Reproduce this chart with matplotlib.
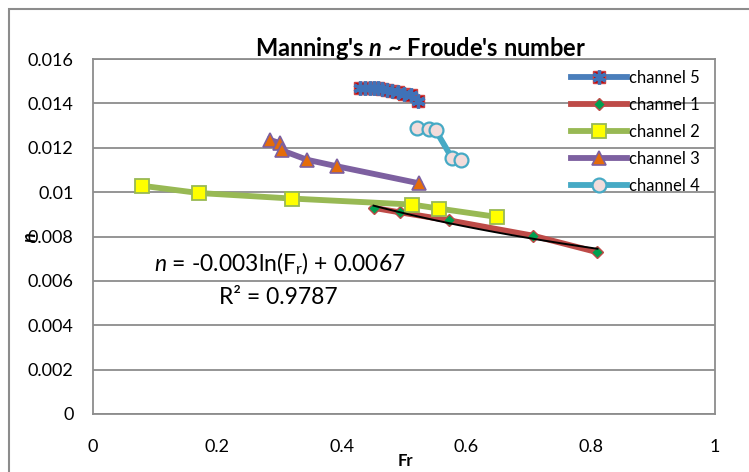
"""Manning's n against Froude number for five channels"""
import numpy as np
import matplotlib
matplotlib.use('Agg')
import matplotlib.pyplot as plt
from matplotlib.patches import Rectangle
from matplotlib.legend_handler import HandlerTuple

plt.rcParams['font.family'] = ['Lato', 'DejaVu Sans']
plt.rcParams['mathtext.fontset'] = 'custom'
plt.rcParams['mathtext.rm'] = 'Lato'
plt.rcParams['mathtext.it'] = 'Lato:italic'
plt.rcParams['mathtext.bf'] = 'Lato:bold'
plt.rcParams['mathtext.bfit'] = 'Lato:italic:bold'

# values
ch5_fr = [0.430, 0.438, 0.445, 0.452, 0.458, 0.465, 0.472, 0.480, 0.490, 0.500, 0.512, 0.522]
ch5_n = [0.01470, 0.01470, 0.01470, 0.01469, 0.01468, 0.01466, 0.01462, 0.01457,
         0.01450, 0.01444, 0.01438, 0.01412]
ch1_fr = [0.451, 0.493, 0.572, 0.707, 0.811]
ch1_n = [0.00929, 0.00909, 0.00873, 0.00804, 0.00729]
ch2_fr = [0.078, 0.170, 0.320, 0.513, 0.556, 0.650]
ch2_n = [0.01029, 0.00996, 0.00971, 0.00944, 0.00926, 0.00888]
ch3_fr = [0.284, 0.300, 0.304, 0.344, 0.393, 0.524]
ch3_n = [0.01236, 0.01221, 0.01188, 0.01146, 0.01116, 0.01040]
ch4_fr = [0.521, 0.540, 0.551, 0.577, 0.591]
ch4_n = [0.01289, 0.01285, 0.01278, 0.01154, 0.01143]

xticks = [0, 0.2, 0.4, 0.6, 0.8, 1]
xtick_labels = ['0', '0.2', '0.4', '0.6', '0.8', '1']
yticks = [0, 0.002, 0.004, 0.006, 0.008, 0.01, 0.012, 0.014, 0.016]
ytick_labels = ['0', '0.002', '0.004', '0.006', '0.008', '0.01', '0.012', '0.014', '0.016']
labels = ['channel 5', 'channel 1', 'channel 2', 'channel 3', 'channel 4']

W, H = 749, 472
fig = plt.figure(figsize=(W/100., H/100.), dpi=100)
# outer chart frame (only left and top edges are inside the picture)
fig.patches.append(Rectangle((8.5/W, -0.1), 1.2, 1 - 9./H + 0.1, transform=fig.transFigure,
                             fill=False, edgecolor='#8c8c8c', linewidth=1.5))
ax = fig.add_axes([93./W, 1 - 414./H, (715. - 93.)/W, (414. - 59.)/H])

lw = 4.2
l5, = ax.plot(ch5_fr, ch5_n, '-', color='#4A7EBB', lw=lw, marker='s', ms=9,
              mfc='#C00000', mec='#D04040', zorder=3)
l5x, = ax.plot(ch5_fr, ch5_n, ls='none', marker=(6, 2, 0), ms=10, mec='#3F72B8',
               mew=2.4, zorder=3.1)
l1, = ax.plot(ch1_fr, ch1_n, '-', color='#BE4B48', lw=lw, marker='D', ms=6.5,
              mfc='#00A050', mec='#BE4B48', zorder=3)
l2, = ax.plot(ch2_fr, ch2_n, '-', color='#98B954', lw=lw, marker='s', ms=9.5,
              mfc='#FFFF00', mec='#98B954', mew=1.3, zorder=3)
l3, = ax.plot(ch3_fr, ch3_n, '-', color='#7D60A0', lw=lw, marker='^', ms=10,
              mfc='#E46C0A', mec='#7D60A0', mew=1.2, zorder=3)
l4, = ax.plot(ch4_fr, ch4_n, '-', color='#46AAC5', lw=lw, marker='o', ms=10,
              mfc='#F2DCDB', mec='#46AAC5', mew=1.6, zorder=3)

# logarithmic trend line fitted to channel 1
a, b = np.polyfit(np.log(ch1_fr), ch1_n, 1)
xx = np.linspace(min(ch1_fr), max(ch1_fr), 100)
ax.plot(xx, a*np.log(xx) + b, '-', color='black', lw=1.4, zorder=4)

ax.set_xlim(0, 1)
ax.set_ylim(0, 0.016)
ax.set_xticks(xticks)
ax.set_xticklabels(xtick_labels)
ax.set_yticks(yticks)
ax.set_yticklabels(ytick_labels)
ax.tick_params(length=0, labelsize=13, pad=14, colors='black')
ax.tick_params(axis='x', pad=18)
ax.grid(axis='y', color='#8c8c8c', lw=1.3)
ax.set_axisbelow(True)
for sp in ax.spines.values():
    sp.set_color('#8c8c8c')
    sp.set_linewidth(1.3)

leg = ax.legend([(l5, l5x), l1, l2, l3, l4], labels,
                handler_map={tuple: HandlerTuple(ndivide=1, pad=0)},
                loc='upper right', bbox_to_anchor=(0.993, 1.0), frameon=False, fontsize=12,
                handlelength=3.4, handletextpad=0.1, labelspacing=0.66, borderaxespad=0.25)

fig.text(421./W, 1 - 48./H, r"Manning's $\mathbfit{n}$ ~ Froude's number", ha='center',
         va='center', fontsize=17, fontweight='bold')
fig.text(405./W, 1 - 461./H, 'Fr', ha='center', va='center', fontsize=12, fontweight='bold')
fig.text(30./W, 1 - 237./H, 'n', rotation=90, ha='center', va='center', fontsize=13,
         fontweight='bold', fontstyle='italic')
fig.text(280./W, 1 - 264./H, r'$\mathit{n}$ = -0.003ln(F$_\mathrm{r}$) + 0.0067', ha='center',
         va='center', fontsize=16.5)
fig.text(278./W, 1 - 297./H, u'R\u00b2 = 0.9787', ha='center', va='center', fontsize=16.5)

fig.savefig('out.png', dpi=100)
